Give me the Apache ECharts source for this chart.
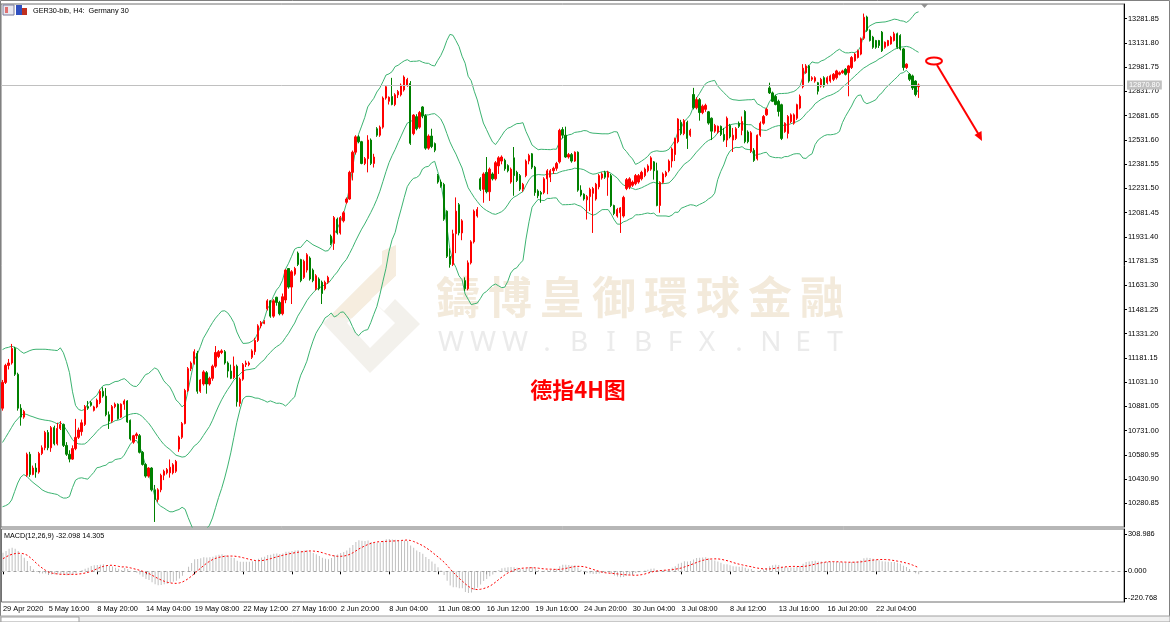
<!DOCTYPE html>
<html>
<head>
<meta charset="utf-8">
<script src="https://cdn.jsdelivr.net/npm/echarts@6/dist/echarts.min.js"></script>
<style>
  html, body { margin: 0; padding: 0; background: #fff; }
  #chart { width: 1170px; height: 622px; }
</style>
</head>
<body>
<div id="chart"></div>
<script>
// time axis labels (bar index where MT prints them)
const tickIndex = [0, 15, 31, 47, 63, 79, 95, 111, 127, 143, 159, 175, 191, 207, 223, 239, 255, 271, 287];
const tickLabels = ['29 Apr 2020', '5 May 16:00', '8 May 20:00', '14 May 04:00', '19 May 08:00', '22 May 12:00',
  '27 May 16:00', '2 Jun 20:00', '8 Jun 04:00', '11 Jun 08:00', '16 Jun 12:00', '19 Jun 16:00', '24 Jun 20:00',
  '30 Jun 04:00', '3 Jul 08:00', '8 Jul 12:00', '13 Jul 16:00', '16 Jul 20:00', '22 Jul 04:00'];

// price scale labels
const priceTicks = [13281.85, 13131.80, 12981.75, 12831.70, 12681.65, 12531.60, 12381.55, 12231.50, 12081.45,
  11931.40, 11781.35, 11631.30, 11481.25, 11331.20, 11181.15, 11031.10, 10881.05, 10731.00, 10580.95, 10430.90, 10280.85];
const macdTicks = [308.986, 0, -220.768];
const lastPrice = 12870.80;

// bollinger values for the first bars (before 20 closes exist)
const bandHeadUpper = [11233, 11243, 11247, 11254, 11247, 11239, 11222, 11210, 11218, 11227, 11233, 11235, 11235, 11235, 11235, 11233, 11231, 11229, 11227];
const bandHeadMiddle = [10658, 10689, 10720, 10752, 10783, 10804, 10825, 10836, 10831, 10823, 10817, 10810, 10804, 10800, 10796, 10794, 10790, 10783, 10773];
const bandHeadLower = [10260, 10267, 10277, 10302, 10355, 10407, 10444, 10459, 10449, 10428, 10411, 10396, 10382, 10365, 10355, 10348, 10344, 10340, 10336];

// MACD values for the first 40 bars (EMA warm-up)
const macdHead = [154, 168, 187, 195, 187, 168, 140, 113, 85, 44, 17, -5, -16, -19, -19, -25, -27, -25, -25, -27,
  -30, -33, -30, -27, -16, 0, 11, 22, 30, 44, 50, 52, 55, 58, 52, 44, 39, 30, 22, 11];
const signalHead = [105, 119, 133, 141, 147, 149, 149, 144, 133, 113, 91, 66, 44, 25, 8, -6, -14, -19, -22, -25,
  -25, -25, -25, -25, -25, -22, -19, -14, -8, 0, 11, 22, 33, 41, 47, 50, 50, 47, 41, 36];

// GER30 H4 candles: [open, close, low, high]
const bars = [
  [10870,11030,10855,11045],[11030,11135,11020,11145],[11135,11150,11110,11175],[11150,11240,11140,11268],[11240,11080,11070,11250],
  [11080,10870,10855,11090],[10870,10815,10762,10895],[10815,10850,10805,10860],[10455,10585,10445,10595],[10585,10460,10445,10600],
  [10460,10500,10455,10515],[10500,10475,10440,10530],[10475,10590,10465,10600],[10590,10625,10580,10640],[10625,10720,10610,10730],
  [10720,10625,10610,10735],[10625,10750,10600,10760],[10750,10650,10640,10762],[10650,10745,10640,10780],[10745,10770,10735,10790],
  [10770,10640,10630,10775],[10640,10585,10575,10660],[10585,10555,10535,10610],[10555,10620,10550,10640],[10620,10690,10610,10804],
  [10690,10735,10680,10750],[10725,10780,10700,10800],[10770,10880,10760,10890],[10880,10870,10860,10915],[10905,10888,10880,10915],
  [10857,10878,10850,10885],[10878,10920,10870,10930],[10905,10975,10895,10985],[10975,10945,10935,11000],[10945,10830,10820,10995],
  [10830,10790,10742,10850],[10790,10880,10780,10890],[10880,10895,10870,10905],[10895,10805,10800,10900],[10815,10895,10810,10900],
  [10895,10915,10860,10925],[10915,10785,10780,10920],[10795,10680,10670,10800],[10660,10700,10650,10705],[10700,10710,10680,10720],
  [10700,10597,10590,10710],[10597,10522,10515,10605],[10522,10450,10440,10530],[10450,10500,10440,10505],[10500,10365,10355,10505],
  [10365,10305,10166,10395],[10305,10365,10290,10375],[10365,10455,10350,10465],[10455,10480,10425,10490],[10470,10490,10460,10500],
  [10470,10505,10440,10553],[10470,10520,10460,10530],[10480,10540,10470,10550],[10617,10690,10600,10700],[10690,10775,10680,10785],
  [10775,10980,10770,10990],[10980,11115,10970,11125],[11115,11150,11100,11160],[11150,11220,11140,11235],[11210,10975,10960,11225],
  [10975,11045,10965,11050],[11020,11095,11010,11105],[11090,11020,10960,11100],[11020,11055,11010,11065],[11055,11130,11040,11140],
  [11130,11215,11120,11255],[11190,11220,11180,11230],[11215,11225,11205,11235],[11220,11150,11140,11230],[11150,11100,11060,11160],
  [11100,11055,11050,11140],[11060,11130,11050,11190],[11130,10910,10880,11140],[10900,11050,10880,11060],[11050,11140,11040,11150],
  [11140,11150,11125,11165],[11140,11150,11130,11160],[11185,11225,11175,11235],[11220,11290,11200,11306],[11290,11380,11280,11390],
  [11380,11400,11365,11410],[11395,11405,11390,11415],[11485,11535,11475,11545],[11535,11440,11430,11540],[11440,11535,11430,11545],
  [11557,11525,11505,11560],[11525,11455,11445,11535],[11455,11560,11445,11580],[11540,11725,11520,11730],[11735,11620,11610,11735],
  [11620,11715,11515,11725],[11700,11735,11690,11745],[11830,11760,11750,11840],[11790,11660,11650,11795],[11680,11780,11670,11790],
  [11725,11820,11710,11830],[11800,11670,11660,11810],[11725,11660,11650,11735],[11610,11690,11600,11700],[11670,11610,11600,11680],
  [11650,11580,11515,11660],[11610,11650,11600,11660],[11650,11680,11640,11690],[11935,11890,11880,11945],[11890,12050,11850,12060],
  [12040,11955,11945,12050],[11955,12050,11945,12060],[12030,12080,12020,12090],[12145,12165,12135,12175],[12165,12330,12160,12340],
  [12330,12455,12280,12465],[12455,12550,12440,12560],[12550,12520,12510,12560],[12520,12385,12380,12525],[12385,12415,12375,12425],
  [12415,12530,12330,12560],[12530,12385,12375,12540],[12385,12425,12360,12445],[12600,12560,12550,12610],[12560,12610,12550,12620],
  [12610,12790,12600,12800],[12790,12860,12780,12865],[12770,12795,12750,12800],[12800,12750,12745,12915],[12750,12810,12740,12820],
  [12810,12830,12790,12840],[12810,12870,12800,12880],[12840,12920,12830,12930],[12870,12905,12860,12915],[12880,12510,12500,12895],
  [12570,12685,12560,12690],[12675,12600,12590,12690],[12610,12700,12600,12710],[12735,12680,12665,12740],[12680,12480,12470,12690],
  [12480,12555,12470,12565],[12555,12490,12480,12600],[12508,12467,12455,12515],[12310,12270,12260,12320],[12270,12245,12235,12285],
  [12255,12040,12030,12265],[12090,11810,11800,12095],[11810,11760,11740,11860],[11760,11950,11750,11975],[11950,12090,11830,12175],
  [12130,11955,11940,12140],[11955,12030,11910,12040],[11660,11610,11597,11680],[11610,11770,11600,11785],[11770,11900,11760,11910],
  [11900,12090,11890,12100],[12060,12100,12050,12115],[12290,12225,12215,12300],[12225,12320,12142,12330],[12330,12210,12200,12425],
  [12210,12350,12153,12360],[12320,12290,12280,12330],[12290,12390,12280,12400],[12370,12420,12320,12430],[12400,12425,12380,12435],
  [12405,12352,12340,12415],[12372,12340,12330,12380],[12270,12350,12260,12360],[12420,12310,12185,12487],[12330,12280,12270,12340],
  [12310,12226,12215,12320],[12226,12256,12210,12265],[12310,12400,12300,12410],[12400,12435,12380,12445],[12445,12362,12350,12450],
  [12362,12205,12185,12370],[12215,12185,12170,12225],[12205,12195,12142,12215],[12205,12290,12195,12300],[12290,12340,12195,12350],
  [12300,12340,12270,12350],[12340,12355,12320,12365],[12355,12385,12340,12395],[12395,12590,12385,12600],[12595,12560,12540,12610],
  [12560,12425,12420,12613],[12425,12440,12415,12450],[12440,12400,12390,12450],[12400,12455,12395,12460],[12455,12220,12210,12460],
  [12220,12190,12180,12250],[12195,12165,12155,12200],[12160,12180,12038,12190],[12180,12225,12090,12235],[12200,12230,11955,12240],
  [12165,12257,12155,12265],[12240,12310,12225,12320],[12295,12320,12285,12330],[12330,12300,12290,12340],[12300,12330,12185,12340],
  [12310,12125,12115,12320],[12125,12075,12065,12130],[12060,12100,12050,12110],[12080,12110,11955,12115],[12060,12175,12050,12185],
  [12230,12285,12220,12295],[12240,12290,12226,12300],[12250,12270,12240,12280],[12260,12310,12250,12320],[12270,12310,12260,12320],
  [12290,12330,12280,12340],[12310,12350,12300,12360],[12340,12370,12330,12380],[12350,12420,12340,12430],[12395,12340,12285,12400],
  [12340,12125,12120,12390],[12125,12268,12080,12275],[12268,12320,12260,12330],[12310,12330,12300,12340],[12340,12400,12330,12410],
  [12400,12475,12360,12485],[12440,12540,12400,12545],[12520,12660,12510,12665],[12640,12570,12560,12655],[12570,12650,12560,12660],
  [12640,12540,12475,12650],[12560,12590,12550,12600],[12812,12730,12720,12853],[12730,12780,12720,12795],[12780,12700,12650,12790],
  [12700,12740,12690,12750],[12720,12745,12705,12755],[12705,12635,12625,12710],[12665,12585,12530,12670],[12585,12620,12575,12630],
  [12580,12615,12570,12620],[12615,12565,12555,12620],[12565,12530,12520,12605],[12530,12665,12487,12676],[12620,12550,12540,12630],
  [12530,12560,12456,12605],[12540,12600,12530,12610],[12634,12615,12605,12645],[12590,12645,12560,12676],[12707,12520,12510,12715],
  [12580,12520,12510,12590],[12460,12575,12450,12585],[12467,12404,12395,12480],[12414,12560,12404,12565],[12560,12634,12550,12645],
  [12634,12676,12625,12685],[12686,12720,12680,12730],[12853,12822,12815,12885],[12822,12770,12765,12830],[12800,12750,12745,12810],
  [12770,12707,12676,12780],[12749,12540,12530,12755],[12582,12634,12575,12640],[12571,12676,12540,12685],[12644,12686,12635,12695],
  [12634,12686,12625,12695],[12665,12749,12655,12755],[12728,12801,12720,12812],[12860,12975,12850,13000],[12947,12989,12940,13000],
  [12989,12895,12885,12995],[12906,12916,12895,12925],[12895,12916,12885,12925],[12885,12832,12812,12890],[12864,12906,12855,12915],
  [12916,12864,12855,12925],[12885,12916,12875,12925],[12895,12927,12885,12935],[12906,12937,12895,12945],[12916,12958,12905,12965],
  [12937,12947,12930,12955],[12947,12958,12940,12965],[12968,12937,12930,12975],[12947,12989,12801,12995],[12979,13041,12970,13050],
  [13021,13062,13015,13070],[13041,13083,13035,13090],[13062,13157,13055,13165],[13160,13290,13150,13313],[13292,13209,13200,13300],
  [13209,13146,13140,13215],[13167,13104,13095,13175],[13146,13104,13095,13150],[13146,13115,13100,13150],[13198,13083,13075,13205],
  [13104,13136,13095,13140],[13115,13146,13110,13150],[13125,13167,13120,13175],[13146,13188,13140,13200],[13188,13104,13095,13195],
  [13177,13094,13085,13185],[13094,12979,12960,13100],[12979,13000,12970,13005],[12937,12906,12895,12945],[12927,12853,12840,12935],
  [12895,12812,12801,12900],[12860,12871,12791,12880]
];

const SLOTS = 369; // chart keeps empty space on the right (chart shift)
const cats = [];
for (let i = 0; i < SLOTS; i++) cats.push(String(i));
const closes = bars.map(b => b[1]);

// bollinger bands (20, 2)
const upper = [], middle = [], lower = [];
for (let i = 0; i < closes.length; i++) {
  if (i < 19) {
    upper.push(bandHeadUpper[i]); middle.push(bandHeadMiddle[i]); lower.push(bandHeadLower[i]);
    continue;
  }
  const win = closes.slice(i - 19, i + 1);
  const m = win.reduce((a, b) => a + b, 0) / 20;
  const sd = Math.sqrt(win.reduce((a, b) => a + (b - m) * (b - m), 0) / 20);
  upper.push(+(m + 2 * sd).toFixed(2)); middle.push(+m.toFixed(2)); lower.push(+(m - 2 * sd).toFixed(2));
}

// MACD(12,26,9): main line as histogram, signal = sma(9) of main
const macd = [], signal = [];
let e12 = closes[0], e26 = closes[0];
for (let i = 0; i < closes.length; i++) {
  e12 += (closes[i] - e12) * 2 / 13;
  e26 += (closes[i] - e26) * 2 / 27;
  if (i < macdHead.length) {
    macd.push(macdHead[i]);
    signal.push(signalHead[i]);
    continue;
  }
  macd.push(+(e12 - e26).toFixed(3));
  const w = macd.slice(i - 8, i + 1);
  signal.push(+(w.reduce((a, b) => a + b, 0) / 9).toFixed(3));
}

const FONT = 'Liberation Sans';
const chart = echarts.init(document.getElementById('chart'), null, { renderer: 'canvas' });

const isTick = (idx) => tickIndex.indexOf(idx) >= 0;

// watermark pieces
const wmChars = '鑄博皇御環球金融'.split('');
const wmLatin = 'WWW.BIBFX.NET'.split('');
const graphics = [];
wmChars.forEach((ch, k) => graphics.push({
  type: 'text', z: 0, silent: true,
  style: { text: ch, x: 458 + k * 52, y: 297, align: 'center', verticalAlign: 'middle',
    font: 'bold 44px "Noto Sans CJK TC"', fill: '#f3eadb' }
}));
wmLatin.forEach((ch, k) => graphics.push({
  type: 'text', z: 0, silent: true,
  style: { text: ch, x: 451 + k * 32, y: 343, align: 'center', verticalAlign: 'middle',
    font: '28px "Noto Sans"', fill: '#ebebeb' }
}));

graphics.push(
  // logo: diamond ring with a raised stripe on the upper left
  { type: 'polygon', z: 0, silent: true, shape: { points: [[323, 323], [371, 275], [420, 324], [370, 373]] },
    style: { fill: '#f3f1ec' } },
  { type: 'polygon', z: 0, silent: true, shape: { points: [[347, 323], [371, 299], [395, 323], [370, 348]] },
    style: { fill: '#ffffff' } },
  { type: 'polygon', z: 0, silent: true, shape: { points: [[329, 317], [382, 264], [382, 251], [396, 245], [396, 276], [352, 318]] },
    style: { fill: '#f6eddf' } },
  { type: 'polygon', z: 0, silent: true, shape: { points: [[371, 299], [396, 276], [396, 298], [384, 311]] },
    style: { fill: '#ffffff' } },
  // title and icons
  { type: 'rect', shape: { x: 3, y: 5, width: 11, height: 10 }, style: { fill: '#e8e8f0', stroke: '#7a7a9a', lineWidth: 1 } },
  { type: 'rect', shape: { x: 5, y: 7, width: 3, height: 6 }, style: { fill: '#e07070' } },
  { type: 'rect', shape: { x: 16, y: 5, width: 6, height: 10 }, style: { fill: '#3050c0' } },
  { type: 'rect', shape: { x: 22, y: 8, width: 5, height: 7 }, style: { fill: '#c03020' } },
  { type: 'text', style: { text: 'GER30-bib, H4:  Germany 30', x: 33, y: 11, verticalAlign: 'middle', font: '7.3px "' + FONT + '"', fill: '#000' } },
  { type: 'text', style: { text: 'MACD(12,26,9) -32.098 14.305', x: 4, y: 536, verticalAlign: 'middle', font: '7.2px "' + FONT + '"', fill: '#000' } },
  // chart shift marker
  { type: 'polygon', shape: { points: [[921, 4], [928, 4], [924.5, 8]] }, style: { fill: '#909090' } },
  // annotations
  { type: 'text', z: 100, style: { text: '德指4H图', x: 578, y: 390, align: 'center', verticalAlign: 'middle',
    font: 'bold 22px "Noto Sans CJK SC"', fill: '#ff0000', textShadowColor: '#300000', textShadowOffsetX: 1, textShadowOffsetY: 1 } },
  { type: 'ellipse', z: 100, shape: { cx: 934, cy: 61, rx: 8, ry: 3.5 }, style: { fill: 'none', stroke: '#ff0000', lineWidth: 2 } },
  { type: 'line', z: 100, shape: { x1: 937, y1: 65, x2: 979, y2: 135 }, style: { stroke: '#ff0000', lineWidth: 2 } },
  { type: 'polygon', z: 100, shape: { points: [[982, 141], [974.5, 135], [981.5, 131]] }, style: { fill: '#ff0000' } },
  // window frame
  { type: 'rect', z: 50, silent: true, shape: { x: 0.5, y: 0.5, width: 1169, height: 621 }, style: { fill: 'none', stroke: '#808080', lineWidth: 1 } },
  { type: 'rect', z: 50, silent: true, shape: { x: 0, y: 616, width: 1170, height: 6 }, style: { fill: '#f0f0f0', stroke: '#a0a0a0', lineWidth: 1 } },
  { type: 'rect', z: 51, silent: true, shape: { x: 1, y: 617, width: 78, height: 5 }, style: { fill: '#ffffff', stroke: '#a0a0a0', lineWidth: 1 } }
);

const option = {
  animation: false,
  backgroundColor: '#ffffff',
  textStyle: { fontFamily: FONT },
  grid: [
    { left: 1, top: 4, width: 1123, height: 523, show: true, borderColor: '#6e6e6e', borderWidth: 1 },
    { left: 1, top: 529, width: 1123, height: 73, show: true, borderColor: '#6e6e6e', borderWidth: 1 }
  ],
  xAxis: [
    { type: 'category', gridIndex: 0, data: cats, boundaryGap: true, show: false },
    { type: 'category', gridIndex: 1, data: cats, boundaryGap: true,
      axisLine: { show: false },
      axisTick: { show: true, alignWithLabel: true, interval: isTick, length: 3, lineStyle: { color: '#000' } },
      axisLabel: { interval: isTick, align: 'left', margin: 3, fontSize: 7.4, color: '#000',
        formatter: (v, idx) => { const k = tickIndex.indexOf(idx); return k >= 0 ? tickLabels[k] : ''; } },
      splitLine: { show: false } }
  ],
  yAxis: [
    { type: 'value', gridIndex: 0, position: 'right', min: 10134.8, max: 13372.2, scale: true,
      axisLine: { show: true, lineStyle: { color: '#000' } },
      axisTick: { show: true, customValues: priceTicks, length: 3, lineStyle: { color: '#000' } },
      axisLabel: { customValues: priceTicks, margin: 4, fontSize: 7.4, color: '#000', formatter: v => v.toFixed(2) },
      splitLine: { show: false } },
    { type: 'value', gridIndex: 1, position: 'right', min: -253.9, max: 350.4,
      axisLine: { show: true, lineStyle: { color: '#000' } },
      axisTick: { show: true, customValues: macdTicks, length: 3, lineStyle: { color: '#000' } },
      axisLabel: { customValues: macdTicks, margin: 4, fontSize: 7.4, color: '#000', formatter: v => v.toFixed(3) },
      splitLine: { show: false } }
  ],
  series: [
    { type: 'line', xAxisIndex: 0, yAxisIndex: 0, data: upper, symbol: 'none', silent: true,
      lineStyle: { color: '#3cb371', width: 1 }, z: 3 },
    { type: 'line', xAxisIndex: 0, yAxisIndex: 0, data: middle, symbol: 'none', silent: true,
      lineStyle: { color: '#3cb371', width: 1 }, z: 3 },
    { type: 'line', xAxisIndex: 0, yAxisIndex: 0, data: lower, symbol: 'none', silent: true,
      lineStyle: { color: '#3cb371', width: 1 }, z: 3 },
    { type: 'candlestick', xAxisIndex: 0, yAxisIndex: 0, data: bars, barWidth: 1.8, z: 4,
      itemStyle: { color: '#ff0000', color0: '#008000', borderColor: '#ff0000', borderColor0: '#008000', borderWidth: 1 },
      markLine: { silent: true, symbol: ['none', 'none'], animation: false,
        lineStyle: { color: '#c0c0c0', width: 1, type: 'solid' },
        label: { show: true, position: 'end', distance: 3, formatter: lastPrice.toFixed(2), color: '#ffffff',
          backgroundColor: '#c0c0c0', padding: [1, 2], fontSize: 7.4 },
        data: [{ yAxis: lastPrice }] } },
    { type: 'bar', xAxisIndex: 1, yAxisIndex: 1, data: macd, barWidth: 1, silent: true,
      itemStyle: { color: '#c0c0c0' },
      markLine: { silent: true, symbol: ['none', 'none'], label: { show: false },
        lineStyle: { color: '#a0a0a0', width: 1, type: [3, 3] }, data: [{ yAxis: 0 }] } },
    { type: 'line', xAxisIndex: 1, yAxisIndex: 1, data: signal, symbol: 'none', silent: true,
      lineStyle: { color: '#ff0000', width: 1, type: [2, 2] }, z: 5 }
  ],
  graphic: graphics
};
chart.setOption(option);
</script>
</body>
</html>
